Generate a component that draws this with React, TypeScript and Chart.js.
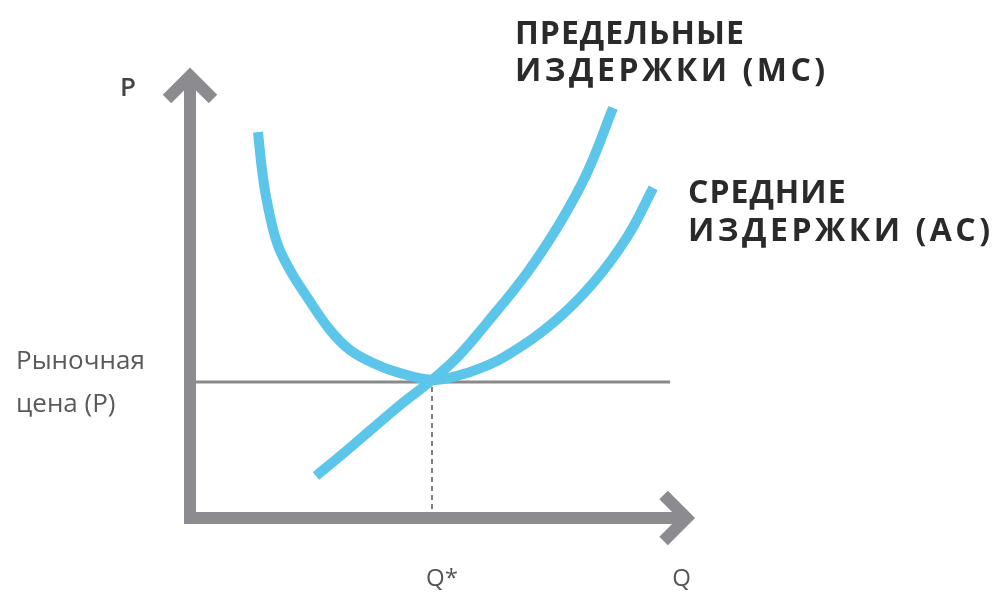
import React, { useEffect, useRef } from "react";
import { Chart, registerables } from "chart.js";

Chart.register(...registerables);

// ---- data (economic units: quantity Q, price P) ----
const AC_Q = [1.405, 1.488, 1.591, 1.798, 2.066, 2.417, 2.893, 3.306, 3.781, 4.277, 5.0, 5.517, 5.992, 6.5, 7.5, 8.33, 9.03, 9.57];
const AC_P = [11.35, 10.24, 9.3, 8.09, 7.29, 6.5, 5.53, 4.94, 4.56, 4.29, 4.06, 4.18, 4.4, 4.74, 5.74, 6.91, 8.26, 9.71];

const MC_Q = [2.603, 3.202, 3.76, 4.339, 5.0, 5.537, 6.136, 6.963, 7.645, 8.202, 8.74];
const MC_P = [1.235, 1.94, 2.62, 3.32, 4.06, 4.75, 5.74, 7.21, 8.68, 10.15, 12.06];

const Q_STAR = 5;
const P_MARKET = 4;
const PRICE_LINE_END = 9.92;
const AXIS_Q_END = 10.26;
const AXIS_P_END = 13.0;

const LABEL_P = "P";
const LABEL_Q = "Q";
const LABEL_QSTAR = "Q*";
const PRICE_LABEL = ["Рыночная", "цена (P)"];
const MC_LABEL = ["предельные", "издержки (MC)"];
const AC_LABEL = ["средние", "издержки (AC)"];

const CURVE_COLOR = "#5bc5ea";
const AXIS_COLOR = "#8c8c90";

const axesPlugin = {
  id: "econAxes",
  afterDatasetsDraw(chart: any) {
    const ctx = chart.ctx as CanvasRenderingContext2D;
    const xs = chart.scales.x;
    const ys = chart.scales.y;
    const x0 = xs.getPixelForValue(0);
    const y0 = ys.getPixelForValue(0);
    const yTop = ys.getPixelForValue(AXIS_P_END);
    const xEnd = xs.getPixelForValue(AXIS_Q_END);
    ctx.save();
    ctx.strokeStyle = AXIS_COLOR;
    ctx.lineWidth = 12;
    ctx.lineCap = "butt";
    ctx.lineJoin = "miter";
    ctx.beginPath();
    ctx.moveTo(x0, y0 + 6);
    ctx.lineTo(x0, yTop);
    ctx.stroke();
    ctx.beginPath();
    ctx.moveTo(x0 - 6, y0);
    ctx.lineTo(xEnd, y0);
    ctx.stroke();
    const a = 23;
    ctx.beginPath();
    ctx.moveTo(x0 - a, yTop + a);
    ctx.lineTo(x0, yTop);
    ctx.lineTo(x0 + a, yTop + a);
    ctx.stroke();
    ctx.beginPath();
    ctx.moveTo(xEnd - a, y0 - a);
    ctx.lineTo(xEnd, y0);
    ctx.lineTo(xEnd - a, y0 + a);
    ctx.stroke();
    ctx.restore();
  },
  afterDraw(chart: any) {
    const ctx = chart.ctx as CanvasRenderingContext2D;
    const xs = chart.scales.x;
    const ys = chart.scales.y;
    const x0 = xs.getPixelForValue(0);
    const yTop = ys.getPixelForValue(AXIS_P_END);
    const yPrice = ys.getPixelForValue(P_MARKET);
    ctx.save();
    ctx.textBaseline = "middle";
    // axis letters
    ctx.fillStyle = "#444";
    ctx.font = "600 26px 'Open Sans'";
    ctx.textAlign = "center";
    ctx.fillText(LABEL_P, x0 - 62, yTop + 13);
    ctx.fillStyle = "#555";
    ctx.font = "24px 'Open Sans'";
    ctx.fillText(LABEL_QSTAR, xs.getPixelForValue(Q_STAR) + 10, 579);
    ctx.fillText(LABEL_Q, xs.getPixelForValue(AXIS_Q_END) - 5, 579);
    // price label
    ctx.textAlign = "left";
    ctx.fillStyle = "#5a5a5a";
    ctx.font = "26px 'Open Sans'";
    ctx.fillText(PRICE_LABEL[0], 16, yPrice - 20);
    ctx.fillText(PRICE_LABEL[1], 16, yPrice + 23);
    // curve labels (hand-lettered look)
    ctx.fillStyle = "#2a2a2a";
    ctx.font = "700 46px 'Open Sans'";
    (ctx as any).fontVariantCaps = "all-small-caps";
    (ctx as any).letterSpacing = "1px";
    ctx.fillText(MC_LABEL[0], 515, 31);
    ctx.fillText(AC_LABEL[0], 688, 190);
    (ctx as any).letterSpacing = "3.5px";
    ctx.fillText(MC_LABEL[1], 515, 68);
    ctx.fillText(AC_LABEL[1], 688, 228);
    ctx.restore();
  },
};

export default function App() {
  const ref = useRef<HTMLCanvasElement | null>(null);
  useEffect(() => {
    if (!ref.current) return;
    const toPts = (qs: number[], ps: number[]) => qs.map((q, i) => ({ x: q, y: ps[i] }));
    const curve = {
      pointRadius: 0,
      borderWidth: 10,
      borderColor: CURVE_COLOR,
      backgroundColor: CURVE_COLOR,
      tension: 0.4,
      fill: false,
      borderCapStyle: "butt" as const,
      clip: false as any,
      order: 0,
    };
    const chart = new Chart(ref.current, {
      type: "line",
      data: {
        datasets: [
          { ...curve, label: "AC", data: toPts(AC_Q, AC_P) },
          { ...curve, label: "MC", data: toPts(MC_Q, MC_P) },
          {
            label: "price",
            data: [
              { x: 0, y: P_MARKET },
              { x: PRICE_LINE_END, y: P_MARKET },
            ],
            pointRadius: 0,
            borderWidth: 3,
            borderColor: "#8a8a8a",
            fill: false,
            clip: false as any,
            order: 2,
          },
          {
            label: "qstar",
            data: [
              { x: Q_STAR, y: 0 },
              { x: Q_STAR, y: P_MARKET },
            ],
            pointRadius: 0,
            borderWidth: 1.5,
            borderColor: "#555",
            borderDash: [5, 4],
            fill: false,
            clip: false as any,
            order: 2,
          },
        ],
      },
      options: {
        responsive: false,
        animation: false,
        devicePixelRatio: 1,
        parsing: true,
        layout: { padding: { left: 190, right: 320, top: 42, bottom: 78 } },
        scales: {
          x: { type: "linear", min: 0, max: 10, display: false },
          y: { type: "linear", min: 0, max: 14, display: false },
        },
        plugins: {
          legend: { display: false },
          tooltip: { enabled: false },
        },
        events: [],
      },
      plugins: [axesPlugin],
    });
    return () => chart.destroy();
  }, []);
  return (
    <div style={{ position: "absolute", left: 0, top: 0, width: 994, height: 596, background: "#fff" }}>
      <canvas ref={ref} width={994} height={596} style={{ display: "block" }} />
    </div>
  );
}
